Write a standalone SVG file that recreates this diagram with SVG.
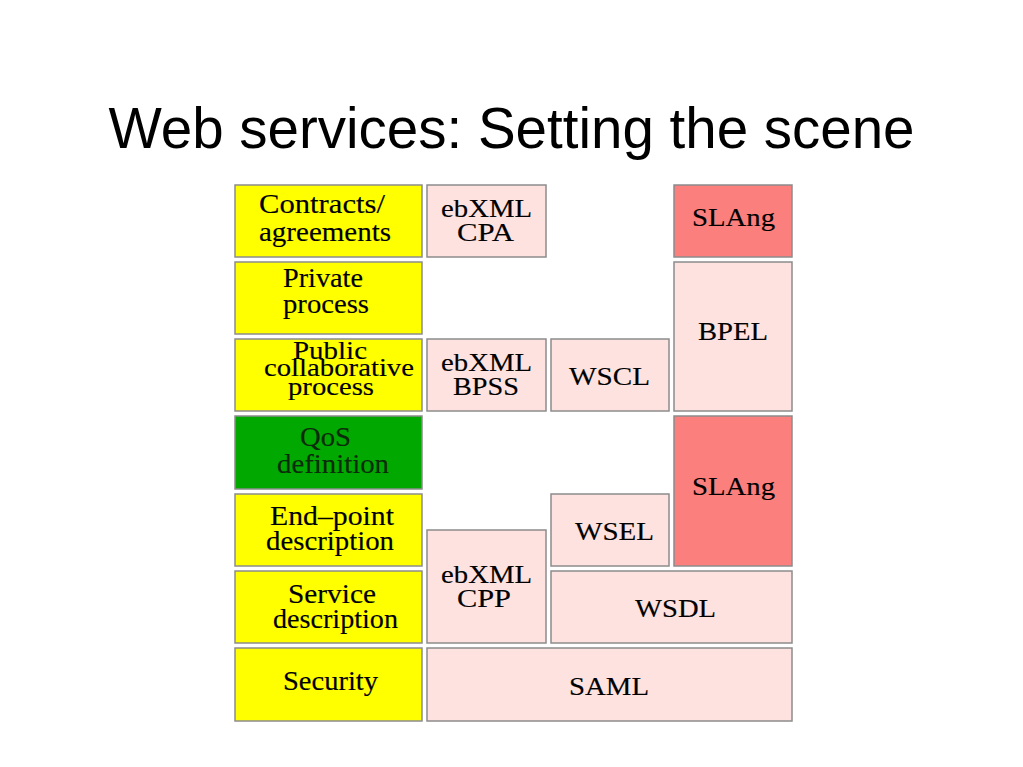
<svg xmlns="http://www.w3.org/2000/svg" width="1023" height="767" viewBox="0 0 1023 767">
<style>
.title{font-family:"Liberation Sans",Arial,sans-serif;font-size:56.5px;fill:#000}
.b{stroke:#8c8c8c;stroke-width:1.5}
.y{fill:#ffff00}
.g{fill:#00a800}
.p{fill:#fde2e0}
.r{fill:#fb7f7c}
.t{font-family:"Liberation Serif","Times New Roman",serif;font-size:26.5px;fill:#000;stroke:#000;stroke-width:0.15}
.s{font-family:"Liberation Serif","Times New Roman",serif;font-size:25px;fill:#000;stroke:#000;stroke-width:0.15}
.c{font-size:24.5px}
</style>
<rect width="1023" height="767" fill="#fff"/>
<text class="title" x="511.5" y="148" text-anchor="middle">Web services: Setting the scene</text>

<g id="contracts"><rect class="b y" x="235" y="185" width="187" height="72"/>
<text class="t" x="259" y="213" textLength="126" lengthAdjust="spacingAndGlyphs">Contracts/</text>
<text class="t" x="259" y="240.5" textLength="132" lengthAdjust="spacingAndGlyphs">agreements</text></g>

<g id="private"><rect class="b y" x="235" y="262" width="187" height="72"/>
<text class="t" x="283" y="286.5" textLength="80" lengthAdjust="spacingAndGlyphs">Private</text>
<text class="t" x="283" y="313" textLength="86" lengthAdjust="spacingAndGlyphs">process</text></g>

<g id="public"><rect class="b y" x="235" y="339" width="187" height="72"/>
<text class="t c" x="293" y="358.5" textLength="74" lengthAdjust="spacingAndGlyphs">Public</text>
<text class="t c" x="264" y="376" textLength="150" lengthAdjust="spacingAndGlyphs">collaborative</text>
<text class="t c" x="288" y="395" textLength="86" lengthAdjust="spacingAndGlyphs">process</text></g>

<g id="qos"><rect class="b g" x="235" y="416" width="187" height="73"/>
<text class="t" x="300" y="446" textLength="51" lengthAdjust="spacingAndGlyphs" style="fill:#0c2a0c;stroke:#0c2a0c">QoS</text>
<text class="t" x="277" y="473" textLength="112" lengthAdjust="spacingAndGlyphs" style="fill:#0c2a0c;stroke:#0c2a0c">definition</text></g>

<g id="endpoint"><rect class="b y" x="235" y="494" width="187" height="72"/>
<text class="t" x="270" y="525" textLength="124" lengthAdjust="spacingAndGlyphs">End–point</text>
<text class="t" x="266" y="550" textLength="128" lengthAdjust="spacingAndGlyphs">description</text></g>

<g id="service"><rect class="b y" x="235" y="571" width="187" height="72"/>
<text class="t" x="288" y="602.5" textLength="88" lengthAdjust="spacingAndGlyphs">Service</text>
<text class="t" x="273" y="627.5" textLength="125" lengthAdjust="spacingAndGlyphs">description</text></g>

<g id="security"><rect class="b y" x="235" y="648" width="187" height="73"/>
<text class="t" x="283" y="689.5" textLength="95" lengthAdjust="spacingAndGlyphs">Security</text></g>

<g id="ebxml-cpa"><rect class="b p" x="427" y="185" width="119" height="72"/>
<text class="s" x="441" y="216.5" textLength="91" lengthAdjust="spacingAndGlyphs">ebXML</text>
<text class="s" x="457" y="241" textLength="57" lengthAdjust="spacingAndGlyphs">CPA</text></g>

<g id="slang-top"><rect class="b r" x="674" y="185" width="118" height="72"/>
<text class="s" x="692" y="226" textLength="83" lengthAdjust="spacingAndGlyphs">SLAng</text></g>

<g id="bpel"><rect class="b p" x="674" y="262" width="118" height="149"/>
<text class="s" x="698" y="340" textLength="70" lengthAdjust="spacingAndGlyphs">BPEL</text></g>

<g id="ebxml-bpss"><rect class="b p" x="427" y="339" width="119" height="72"/>
<text class="s" x="441" y="370.5" textLength="91" lengthAdjust="spacingAndGlyphs">ebXML</text>
<text class="s" x="453" y="395" textLength="66" lengthAdjust="spacingAndGlyphs">BPSS</text></g>

<g id="wscl"><rect class="b p" x="551" y="339" width="118" height="72"/>
<text class="s" x="569" y="385" textLength="81" lengthAdjust="spacingAndGlyphs">WSCL</text></g>

<g id="slang-mid"><rect class="b r" x="674" y="416" width="118" height="150"/>
<text class="s" x="692" y="495" textLength="83" lengthAdjust="spacingAndGlyphs">SLAng</text></g>

<g id="wsel"><rect class="b p" x="551" y="494" width="118" height="72"/>
<text class="s" x="575" y="540" textLength="79" lengthAdjust="spacingAndGlyphs">WSEL</text></g>

<g id="ebxml-cpp"><rect class="b p" x="427" y="530" width="119" height="113"/>
<text class="s" x="441" y="582.5" textLength="91" lengthAdjust="spacingAndGlyphs">ebXML</text>
<text class="s" x="457" y="606.5" textLength="54" lengthAdjust="spacingAndGlyphs">CPP</text></g>

<g id="wsdl"><rect class="b p" x="551" y="571" width="241" height="72"/>
<text class="s" x="635" y="616.5" textLength="81" lengthAdjust="spacingAndGlyphs">WSDL</text></g>

<g id="saml"><rect class="b p" x="427" y="648" width="365" height="73"/>
<text class="s" x="569" y="695" textLength="80" lengthAdjust="spacingAndGlyphs">SAML</text></g>

<g id="connectors"></g>
</svg>
